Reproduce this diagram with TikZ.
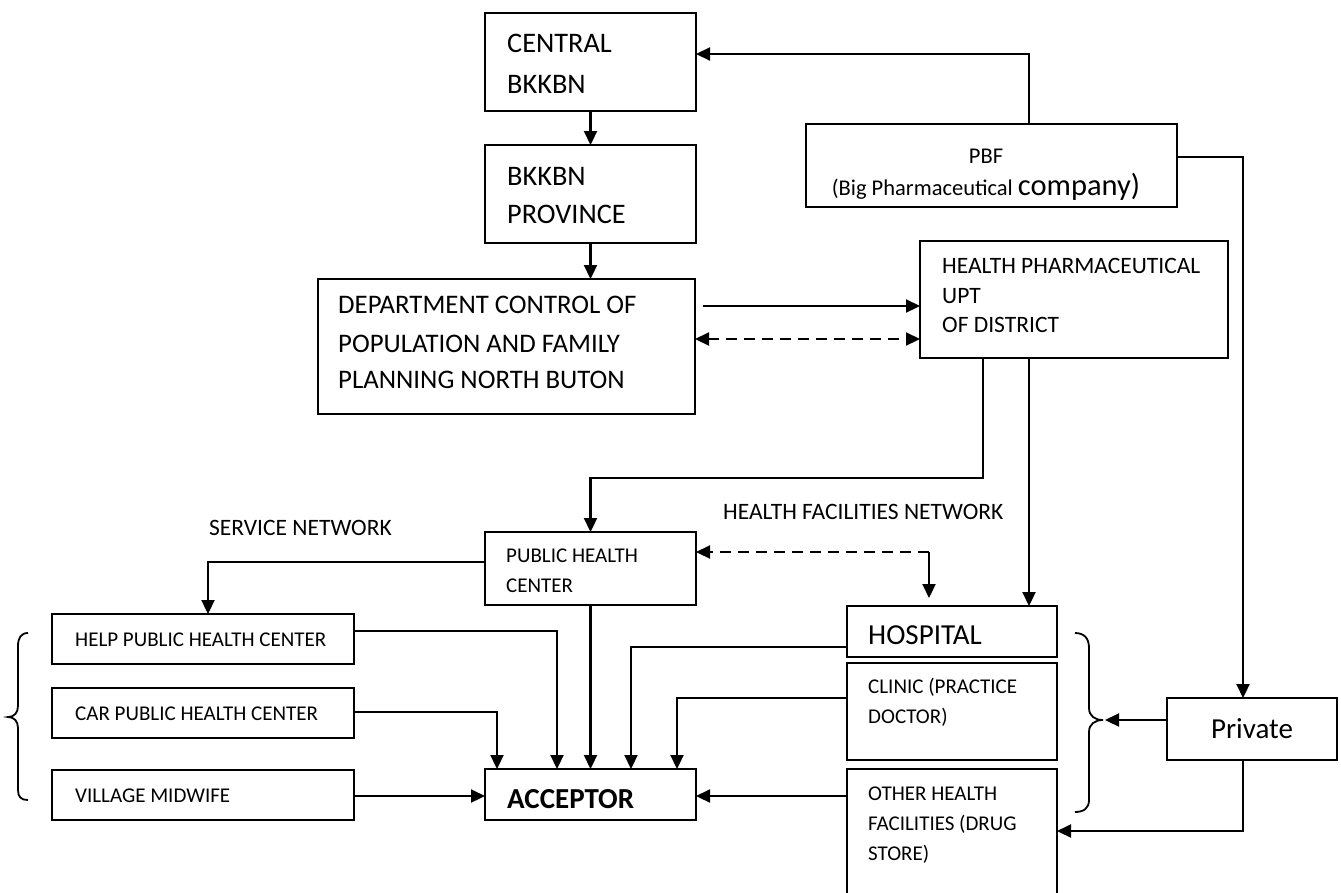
\documentclass[tikz,border=0pt]{standalone}
\usepackage{fontspec}
\setmainfont{Carlito}
\usetikzlibrary{arrows.meta}
\newcommand{\fsml}{\fontsize{21}{25}\selectfont}
\newcommand{\fmidl}{\fontsize{23.5}{28}\selectfont}
\newcommand{\fdep}{\fontsize{26.8}{31}\selectfont}
\newcommand{\fbigl}{\fontsize{28.3}{33}\selectfont}
\newcommand{\fhug}{\fontsize{29}{34}\selectfont}
\newcommand{\fpbf}{\fontsize{22.5}{27}\selectfont}
\newcommand{\fcomp}{\fontsize{30.5}{35}\selectfont}
\begin{document}
\begin{tikzpicture}[x=1pt,y=-1pt,
  box/.style={draw, line width=2pt, anchor=north west, inner sep=0pt, outer sep=0pt},
  con/.style={line width=2.2pt},
  arr/.style={con, -{Triangle[length=14pt,width=13pt]}},
  darr/.style={con, dash pattern=on 11pt off 7pt, {Triangle[length=14pt,width=13pt]}-{Triangle[length=14pt,width=13pt]}},
  dlarr/.style={con, dash pattern=on 11pt off 7pt, -{Triangle[length=14pt,width=13pt]}},
  brc/.style={line width=1.8pt},
  t/.style={anchor=base west, inner sep=0pt},
  tc/.style={anchor=base, inner sep=0pt}
]
\useasboundingbox (0,0) rectangle (1341,892);

% boxes
\node[box, minimum width=211pt, minimum height=98pt] (central) at (485,13) {};
\node[box, minimum width=211pt, minimum height=98pt] (bkkbn) at (485,145) {};
\node[box, minimum width=377pt, minimum height=135pt] (dept) at (318,279) {};
\node[box, minimum width=308pt, minimum height=117pt] (hpu) at (920,241) {};
\node[box, minimum width=371pt, minimum height=83pt] (pbf) at (806,124) {};
\node[box, minimum width=211pt, minimum height=73pt] (phc) at (485,532) {};
\node[box, minimum width=302pt, minimum height=50pt] (help) at (52,614) {};
\node[box, minimum width=302pt, minimum height=50pt] (car) at (52,688) {};
\node[box, minimum width=302pt, minimum height=50pt] (village) at (52,770) {};
\node[box, minimum width=211pt, minimum height=51pt] (acc) at (485,769) {};
\node[box, minimum width=210pt, minimum height=51pt] (hospital) at (847,606) {};
\node[box, minimum width=210pt, minimum height=97pt] (clinic) at (847,663) {};
\node[box, minimum width=210pt, minimum height=140pt] (other) at (847,769) {};
\node[box, minimum width=170pt, minimum height=62pt, font=\fhug] (private) at (1167,698) {Private};

% texts
\node[t, font=\fbigl] (tc1) at (507,52) {CENTRAL};
\node[t, font=\fbigl] (tc2) at (507,93) {BKKBN};
\node[t, font=\fbigl] (tb1) at (507,185) {BKKBN};
\node[t, font=\fbigl] (tb2) at (507,223) {PROVINCE};
\node[t, font=\fdep] (td1) at (338,313) {DEPARTMENT CONTROL OF};
\node[t, font=\fdep] (td2) at (338,352) {POPULATION AND FAMILY};
\node[t, font=\fdep] (td3) at (338,388) {PLANNING NORTH BUTON};
\node[t, font=\fmidl] (th1) at (942,273) {HEALTH PHARMACEUTICAL};
\node[t, font=\fmidl] (th2) at (942,303) {UPT};
\node[t, font=\fmidl] (th3) at (942,332) {OF DISTRICT};
\node[tc, font=\fpbf] (tp1) at (986,163) {PBF};
\node[tc, font=\fpbf] (tp2) at (986,195) {(Big Pharmaceutical {\fcomp company)}};
\node[t, font=\fmidl] (tsn) at (209,535) {SERVICE NETWORK};
\node[t, font=\fmidl] (thf) at (723,519) {HEALTH FACILITIES NETWORK};
\node[t, font=\fsml] (tph1) at (506,562) {PUBLIC HEALTH};
\node[t, font=\fsml] (tph2) at (506,592) {CENTER};
\node[t, font=\fsml] (thl) at (75,646) {HELP PUBLIC HEALTH CENTER};
\node[t, font=\fsml] (tca) at (75,720) {CAR PUBLIC HEALTH CENTER};
\node[t, font=\fsml] (tvi) at (75,802) {VILLAGE MIDWIFE};
\node[t, font=\fhug\bfseries] (tac) at (507,808) {ACCEPTOR};
\node[t, font=\fhug] (tho) at (868,644) {HOSPITAL};
\node[t, font=\fsml] (tcl1) at (868,693) {CLINIC (PRACTICE};
\node[t, font=\fsml] (tcl2) at (868,723) {DOCTOR)};
\node[t, font=\fsml] (tot1) at (868,800) {OTHER HEALTH};
\node[t, font=\fsml] (tot2) at (868,830) {FACILITIES (DRUG};
\node[t, font=\fsml] (tot3) at (868,860) {STORE)};

% connectors
\draw[arr] (pbf.north -| 1029,0) |- (central.east |- 0,54);
\draw[arr] (pbf.east |- 0,157) -| (private.north -| 1243,0);
\draw[arr] (central.south) -- (bkkbn.north);
\draw[arr] (bkkbn.south) -- (dept.north -| bkkbn.south);
\draw[arr] ([xshift=8pt]dept.east |- 0,306) -- (hpu.west |- 0,306);
\draw[darr] (dept.east |- 0,339) -- (hpu.west |- 0,339);
\coordinate (hb1) at (983,478);
\draw[arr] (hpu.south -| hb1) -- (hb1) -- (phc.north |- hb1) -- (phc.north);
\draw[arr] (hpu.south -| 1029,0) -- (hospital.north -| 1029,0);
\coordinate (hf) at (929,552);
\draw[dlarr] (hf) -- (phc.east |- hf);
\draw[arr] (hf) -- ([yshift=8pt]hospital.north -| hf);
\draw[arr] (phc.west |- 0,562) -| (help.north -| 208,0);
\draw[arr] (help.east |- 0,631) -| (acc.north -| 557,0);
\draw[arr] (car.east |- 0,712) -| (acc.north -| 497,0);
\draw[arr] (village.east |- 0,796) -- (acc.west |- 0,796);
\draw[arr] (phc.south) -- (acc.north);
\draw[arr] (hospital.west |- 0,647) -| (acc.north -| 631,0);
\draw[arr] (clinic.west |- 0,698) -| (acc.north -| 677,0);
\draw[arr] (other.west |- 0,796) -- (acc.east |- 0,796);
\coordinate (rbtip) at (1103,720);
\draw[arr] (private.west |- rbtip) -- ([xshift=2pt]rbtip);
\draw[arr] (private.south -| 1243,0) |- (other.east |- 0,831);

% braces
\draw[brc] (28,633) .. controls (21,633) and (18,638) .. (18,646) -- (18,706) .. controls (18,713) and (14,717) .. (8,717) .. controls (14,717) and (18,721) .. (18,728) -- (18,790) .. controls (18,797) and (21,800) .. (28,800);
\draw[brc] (1075,633) .. controls (1084,633) and (1089,638) .. (1089,648) -- (1089,708) .. controls (1089,716) and (1095,720) .. (rbtip) .. controls (1095,720) and (1089,724) .. (1089,732) -- (1089,800) .. controls (1089,808) and (1084,812) .. (1075,812);
\end{tikzpicture}
\end{document}
